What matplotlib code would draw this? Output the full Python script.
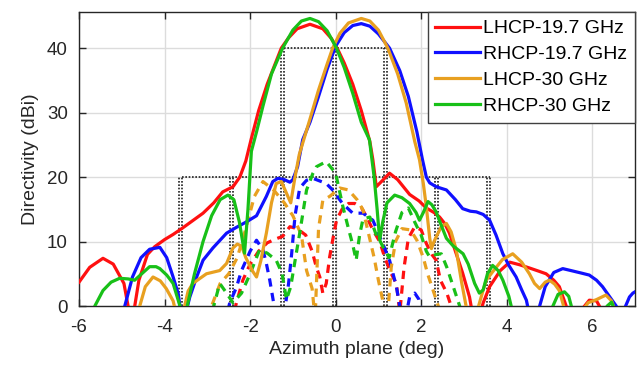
import matplotlib
matplotlib.use("Agg")
import matplotlib.pyplot as plt

# --- solid curves (co-pol) ---
lhcp197_x = [-6.0, -5.75, -5.44, -5.2, -4.95, -4.77, -4.6, -4.4, -4.23, -4.0, -3.8, -3.6,
             -3.35, -3.1, -2.85, -2.64, -2.4, -2.24, -2.1, -1.97, -1.8, -1.6, -1.4, -1.27,
             -1.1, -0.9, -0.6, -0.3, -0.1, 0.05, 0.2, 0.4, 0.6, 0.8, 0.87, 0.95, 1.1, 1.26,
             1.45, 1.73, 1.95, 2.12, 2.3, 2.43, 2.55, 2.66, 2.8, 2.97, 3.13, 3.22, 3.3, 3.45,
             3.6, 3.85, 4.07, 4.3, 4.53, 4.75, 4.92, 5.1, 5.23, 5.39, 5.5, 5.7, 5.93, 6.1, 6.25]
lhcp197_y = [3.7, 6.0, 7.4, 6.5, 3.5, -3.0, 4.0, 8.0, 9.2, 10.3, 11.1, 12.0,
             13.2, 14.4, 16.0, 17.7, 18.5, 20.0, 22.5, 26.0, 30.3, 34.4, 37.8, 40.0,
             41.6, 43.0, 43.7, 43.0, 41.5, 39.8, 37.7, 34.4, 30.3, 25.5, 22.7, 18.5, 19.5, 20.6,
             19.6, 17.3, 16.3, 15.2, 14.5, 13.8, 12.8, 11.3, 8.5, 5.1, 1.4, -2.0, -3.0, 0.5,
             3.0, 5.5, 6.8, 6.4, 5.9, 5.4, 5.0, 4.0, 3.0, 0.0, -3.0, -1.0, 0.9, 0.8, -1.0]

rhcp197_x = [-4.97, -4.93, -4.75, -4.55, -4.35, -4.11, -3.95, -3.8, -3.68, -3.6, -3.5, -3.41,
             -3.25, -3.1, -2.87, -2.55, -2.32, -2.1, -1.85, -1.62, -1.47, -1.35, -1.2, -1.07,
             -1.0, -0.89, -0.77, -0.6, -0.4, -0.2, 0.0, 0.2, 0.4, 0.6, 0.8, 1.0, 1.26, 1.5,
             1.7, 1.9, 2.03, 2.12, 2.2, 2.35, 2.59, 2.8, 2.97, 3.15, 3.29, 3.45, 3.6, 3.75,
             3.91, 4.05, 4.22, 4.35, 4.46, 4.55, 4.68, 4.77, 4.9, 5.1, 5.31, 5.5, 5.75, 5.93,
             6.1, 6.24, 6.4, 6.56, 6.65, 6.78, 6.87, 6.95, 7.0]
rhcp197_y = [-2.0, 0.0, 4.5, 7.5, 8.8, 9.1, 7.5, 4.5, 1.9, -2.0, -1.0, 1.4,
             4.5, 7.1, 9.0, 11.3, 12.2, 13.0, 14.0, 17.0, 19.3, 19.8, 19.6, 19.2,
             19.6, 21.6, 25.8, 28.5, 32.5, 36.7, 40.3, 42.4, 43.5, 43.8, 43.4, 42.2, 40.0, 36.5,
             32.5, 27.0, 22.7, 20.0, 19.1, 18.5, 18.0, 16.5, 15.1, 14.7, 14.6, 14.2, 13.3, 11.0,
             8.1, 6.3, 4.5, 2.5, 0.9, -2.0, -2.0, 0.0, 3.0, 5.2, 5.8, 5.5, 5.1, 4.8,
             4.0, 3.0, 1.5, 0.0, -2.0, 0.0, 1.4, 2.0, 2.2]

lhcp30_x = [-4.65, -4.58, -4.45, -4.27, -4.1, -3.96, -3.8, -3.7, -3.6, -3.53, -3.45, -3.34,
            -3.02, -2.71, -2.55, -2.4, -2.3, -2.2, -2.1, -1.95, -1.85, -1.75, -1.62, -1.5,
            -1.39, -1.27, -1.15, -1.05, -0.95, -0.85, -0.6, -0.4, -0.2, -0.07, 0.1, 0.3, 0.6,
            0.8, 1.0, 1.22, 1.45, 1.65, 1.85, 1.96, 2.05, 2.12, 2.2, 2.24, 2.3, 2.35, 2.47,
            2.59, 2.7, 2.82, 2.95, 3.05, 3.15, 3.3, 3.45, 3.52, 3.67, 3.9, 4.14, 4.35, 4.53,
            4.65, 4.77, 4.9, 5.0, 5.12, 5.23, 5.33, 5.45, 5.75, 5.9, 6.1, 6.32, 6.45, 6.55]
lhcp30_y = [-2.0, 0.0, 3.0, 4.5, 3.9, 2.7, 0.8, -2.0, -1.0, 0.0, 2.3, 3.5,
            5.0, 5.5, 6.6, 9.0, 9.6, 9.3, 7.5, 5.5, 4.5, 7.0, 11.3, 16.0,
            19.0, 19.3, 17.5, 16.0, 20.0, 23.5, 29.0, 33.5, 37.5, 40.0, 42.3, 43.9, 44.6,
            44.2, 42.8, 40.0, 36.0, 31.5, 25.5, 22.7, 19.0, 15.4, 10.5, 8.9, 10.0, 10.7, 12.3,
            12.8, 11.5, 8.7, 3.5, 0.0, -3.0, -1.0, 2.5, 4.0, 5.3, 7.2, 8.1, 6.8, 5.0,
            3.5, 2.7, 3.7, 4.0, 3.4, 2.4, 0.0, -2.0, -1.0, 0.5, 1.0, 1.7, 0.8, -1.0]

rhcp30_x = [-5.75, -5.63, -5.44, -5.25, -5.05, -4.85, -4.7, -4.5, -4.35, -4.2, -4.11, -3.95,
            -3.8, -3.64, -3.55, -3.47, -3.3, -3.1, -2.9, -2.7, -2.52, -2.38, -2.25, -2.13,
            -2.05, -1.97, -1.85, -1.7, -1.5, -1.24, -1.0, -0.8, -0.6, -0.4, -0.2, 0.02, 0.2,
            0.4, 0.6, 0.79, 0.9, 0.97, 1.03, 1.1, 1.2, 1.38, 1.55, 1.73, 1.88, 1.96, 2.05,
            2.16, 2.25, 2.35, 2.47, 2.59, 2.75, 2.98, 3.1, 3.25, 3.36, 3.45, 3.55, 3.67, 3.8,
            3.91, 4.05, 4.14, 4.3, 4.9, 5.08, 5.2, 5.35, 5.45, 5.55, 6.25, 6.35, 6.45, 6.55]
rhcp30_y = [-3.0, 0.0, 2.4, 3.7, 4.3, 4.2, 4.0, 5.2, 6.1, 6.1, 5.8, 4.8,
            3.5, 0.0, -3.0, 0.0, 5.0, 10.0, 14.0, 16.5, 17.2, 16.5, 13.0, 8.2,
            15.0, 24.0, 27.0, 31.0, 36.0, 40.0, 42.8, 44.2, 44.6, 44.1, 42.7, 40.0, 37.0,
            33.0, 28.5, 25.8, 20.0, 15.0, 10.2, 13.0, 16.0, 17.2, 16.8, 15.9, 14.5, 13.3, 14.5,
            16.2, 15.7, 14.6, 12.5, 10.5, 9.3, 8.1, 6.5, 3.5, 2.0, 2.5, 5.0, 6.3, 5.5,
            4.0, 1.5, -1.0, -4.0, -4.0, 0.0, 1.8, 2.2, 1.5, -1.0, -1.0, 0.0, 0.6, -1.0]

# --- dashed curves (cross-pol) ---
lhcp197_xp_x = [-2.45, -2.32, -2.17, -2.0, -1.8, -1.6, -1.4, -1.24, -1.07, -0.9, -0.7, -0.55,
                -0.45, -0.37, -0.3, -0.22, -0.14, -0.07, 0.02, 0.15, 0.3, 0.45, 0.6, 0.75,
                0.87, 1.03, 1.15, 1.3, 1.42, 1.5, 1.6, 1.7, 1.85, 2.0, 2.12, 2.25, 2.35,
                2.45, 2.6, 2.7, 2.8]
lhcp197_xp_y = [-3.0, 0.5, 4.0, 6.5, 8.5, 9.8, 10.4, 10.8, 12.3, 12.0, 11.0, 8.5,
                6.0, 4.5, 2.0, 3.5, 7.6, 10.2, 13.3, 15.0, 15.9, 15.9, 15.3, 13.5,
                11.8, 10.0, 7.5, 5.0, 3.5, -1.0, 6.0, 10.5, 12.3, 11.8, 9.7, 8.0, 7.1,
                4.0, 2.0, 0.0, -3.0]

rhcp197_xp_x = [-2.6, -2.48, -2.32, -2.2, -2.0, -1.85, -1.7, -1.62, -1.54, -1.45, -1.35, -1.2,
                -1.1, -1.03, -0.95, -0.84, -0.68, -0.53, -0.22, -0.07, 0.16, 0.4, 0.64, 0.87,
                1.1, 1.26, 1.42, 1.5, 1.6, 1.73, 1.85, 1.95, 2.05]
rhcp197_xp_y = [-3.0, 0.4, 2.9, 5.5, 8.5, 10.2, 8.7, 6.6, 4.0, 0.5, -3.0, -1.0,
                3.5, 8.0, 14.0, 18.3, 19.5, 19.8, 19.0, 18.0, 15.9, 14.4, 14.4, 13.3,
                9.7, 7.1, 3.0, 0.0, -3.0, 1.4, 2.0, 1.0, -2.0]

lhcp30_xp_x = [-2.95, -2.9, -2.7, -2.5, -2.3, -2.1, -1.9, -1.7, -1.45, -1.2, -1.0, -0.8,
               -0.68, -0.55, -0.48, -0.4, -0.3, -0.14, 0.1, 0.3, 0.5, 0.64, 0.76, 0.9,
               1.0, 1.1, 1.2, 1.3, 1.4, 1.55, 1.75, 1.9, 2.05, 2.15, 2.3, 2.4, 2.5]
lhcp30_xp_y = [-2.0, 0.0, 3.5, 5.0, 7.5, 12.0, 17.0, 19.3, 18.0, 16.0, 14.0, 11.0,
               5.5, 2.7, -2.0, 12.0, 16.4, 17.0, 18.3, 18.0, 16.5, 14.9, 11.5, 7.5,
               4.0, 0.9, -3.0, 6.0, 10.0, 12.0, 11.8, 10.2, 7.5, 5.0, 2.0, 0.0, -3.0]

rhcp30_xp_x = [-2.95, -2.85, -2.71, -2.55, -2.4, -2.2, -2.0, -1.78, -1.6, -1.39, -1.25, -1.15,
               -1.05, -0.95, -0.84, -0.68, -0.53, -0.45, -0.22, 0.0, 0.17, 0.3, 0.4, 0.48,
               0.56, 0.64, 0.8, 0.95, 1.03, 1.12, 1.25, 1.4, 1.55, 1.7, 1.85, 2.0, 2.12,
               2.2, 2.35, 2.47, 2.6, 2.75, 2.9, 3.0]
rhcp30_xp_y = [-3.0, 0.0, 3.5, 2.0, 0.5, 2.0, 5.0, 8.7, 8.2, 7.1, 5.0, 1.0,
               3.0, 7.0, 11.3, 18.0, 20.6, 21.6, 22.4, 20.6, 15.4, 12.0, 9.5, 7.1,
               11.0, 13.5, 13.8, 11.0, 10.2, 9.0, 7.5, 11.5, 14.5, 15.2, 13.0, 11.0, 8.5,
               7.6, 8.0, 8.1, 6.0, 3.0, 0.0, -3.0]

# --- dotted beam masks (edge, height) ---
mask_edges = [-3.6, -2.4, -1.2, 0.0, 1.2, 2.4, 3.6]
mask_heights = [20, 20, 40, 40, 40, 20, 20]
mask_shift = -0.07

xticks = [-6, -4, -2, 0, 2, 4, 6]
yticks = [0, 10, 20, 30, 40]

RED, BLUE, ORANGE, GREEN = "#ff1010", "#1010ff", "#e8a020", "#18c018"


def main():
    plt.rcParams["font.family"] = ["Liberation Sans", "DejaVu Sans"]
    plt.rcParams["axes.unicode_minus"] = False
    fig = plt.figure(figsize=(6.43, 3.74), dpi=100)
    ax = fig.add_axes([0.1229, 0.1818, 0.8647, 0.7861])

    # masks
    dot = dict(color="#202020", linestyle=(0, (1, 1)), linewidth=1.2, zorder=1)
    for shift in (0.0, mask_shift):
        for e, h in zip(mask_edges, mask_heights):
            ax.plot([e + shift, e + shift], [0, h], **dot)
    ax.plot([mask_edges[0], mask_edges[-1]], [20, 20], **dot)
    ax.plot([mask_edges[2], mask_edges[4]], [40, 40], **dot)

    lw = 2.3
    dash = (0, (2.6, 2.0))
    ax.plot(lhcp197_xp_x, lhcp197_xp_y, color=RED, lw=lw, ls=dash, zorder=2)
    ax.plot(rhcp197_xp_x, rhcp197_xp_y, color=BLUE, lw=lw, ls=dash, zorder=2)
    ax.plot(lhcp30_xp_x, lhcp30_xp_y, color=ORANGE, lw=lw, ls=dash, zorder=2)
    ax.plot(rhcp30_xp_x, rhcp30_xp_y, color=GREEN, lw=lw, ls=dash, zorder=2)

    ax.plot(lhcp197_x, lhcp197_y, color=RED, lw=lw, label="LHCP-19.7 GHz", zorder=3)
    ax.plot(rhcp197_x, rhcp197_y, color=BLUE, lw=lw, label="RHCP-19.7 GHz", zorder=3)
    ax.plot(lhcp30_x, lhcp30_y, color=ORANGE, lw=lw, label="LHCP-30 GHz", zorder=3)
    ax.plot(rhcp30_x, rhcp30_y, color=GREEN, lw=lw, label="RHCP-30 GHz", zorder=3)

    ax.set_xlim(-6, 7)
    ax.set_ylim(0, 45.6)
    ax.set_xticks(xticks)
    ax.set_yticks(yticks)
    ax.grid(True, color="#dcdcdc", linewidth=1.0)
    ax.set_axisbelow(True)
    ax.tick_params(direction="in", length=5, width=1, colors="#262626",
                   labelsize=13.5, top=True, right=True, labeltop=False, labelright=False)
    ax.tick_params(axis="x", pad=9)
    ax.tick_params(axis="y", pad=8)
    for s in ax.spines.values():
        s.set_color("#262626")
        s.set_linewidth(1.0)

    ax.set_xlabel("Azimuth plane (deg)", fontsize=14, color="#262626", labelpad=4)
    ax.set_ylabel("Directivity (dBi)", fontsize=14, color="#262626", labelpad=6)

    leg = ax.legend(loc="upper right", fontsize=14, borderaxespad=0, handlelength=2.3,
                    handletextpad=0.15, labelspacing=0.42, borderpad=0.4, fancybox=False,
                    framealpha=1, edgecolor="#404040")
    leg.get_frame().set_linewidth(1.0)
    leg.set_zorder(5)

    fig.savefig("out.png", dpi=100)


if __name__ == "__main__":
    main()
